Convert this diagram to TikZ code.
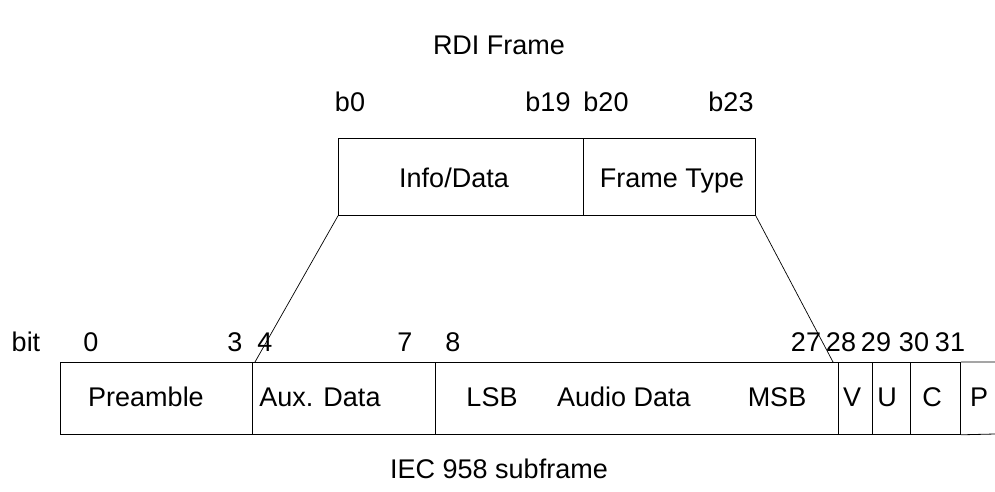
\documentclass[tikz,border=0pt]{standalone}
\usepackage{fontspec}
\setmainfont{Liberation Sans}
\begin{document}
\begin{tikzpicture}[x=1pt,y=-1pt,
  % text box sized to the capitals, so the centre sits at mid cap height
  lbl/.style={font=\fontsize{27}{30}\selectfont, inner sep=0pt,
    text height=19.3pt, text depth=0pt, anchor=center},
  fieldbox/.style={draw, line width=0.8pt, inner sep=0pt, anchor=north west},
  link/.style={line width=0.7pt}]
\useasboundingbox (0,0) rectangle (995,491);

% titles
\node[lbl] (rdi) at (499,45) {RDI Frame};
\node[lbl] (iec) at (499,469) {IEC 958 subframe};

% RDI frame fields
\node[fieldbox, minimum width=245pt, minimum height=77pt] (info) at (338,138) {};
\node[fieldbox, minimum width=172pt, minimum height=77pt] (ftype) at (583,138) {};
\node[lbl] at (454,178) {Info/Data};
\node[lbl] at (672,178) {Frame Type};

% RDI bit positions
\node[lbl] at (350,102) {b0};
\node[lbl] at (548,102) {b19};
\node[lbl] at (606,102) {b20};
\node[lbl] at (731,102) {b23};

% IEC 958 subframe fields (right end runs off the edge)
\node[fieldbox, minimum width=192pt, minimum height=72pt] (pre) at (60,362) {};
\node[fieldbox, minimum width=183pt, minimum height=72pt] (aux) at (252,362) {};
\node[fieldbox, minimum width=403pt, minimum height=72pt] (aud) at (435,362) {};
\node[fieldbox, minimum width=34pt, minimum height=72pt] (v) at (838,362) {};
\node[fieldbox, minimum width=38pt, minimum height=72pt] (u) at (872,362) {};
\node[fieldbox, minimum width=50pt, minimum height=72pt] (c) at (910,362) {};
\draw[line width=0.8pt] (c.north east) -- (995,362) (c.south east) -- (995,434);

\node[lbl] at (146,397) {Preamble};
\node[lbl] at (320,397) {Aux. Data};
\node[lbl] at (492,397) {LSB};
\node[lbl] at (624,397) {Audio Data};
\node[lbl] at (777,397) {MSB};
\node[lbl] at (852,397) {V};
\node[lbl] at (887,397) {U};
\node[lbl] at (932,397) {C};
\node[lbl] at (979,397) {P};

% IEC bit positions
\node[lbl] at (26,342) {bit};
\node[lbl] at (91,342) {0};
\node[lbl] at (235,342) {3};
\node[lbl] at (265,342) {4};
\node[lbl] at (405,342) {7};
\node[lbl] at (453,342) {8};
\node[lbl] at (806,342) {27};
\node[lbl] at (841,342) {28};
\node[lbl] at (876,342) {29};
\node[lbl] at (914,342) {30};
\node[lbl] at (950,342) {31};

% mapping of the RDI frame onto the subframe
\coordinate (m4) at (255,362);
\coordinate (m27) at (833,362);
\draw[link] (info.south west) -- (m4);
\draw[link] (ftype.south east) -- (m27);
\end{tikzpicture}
\end{document}
